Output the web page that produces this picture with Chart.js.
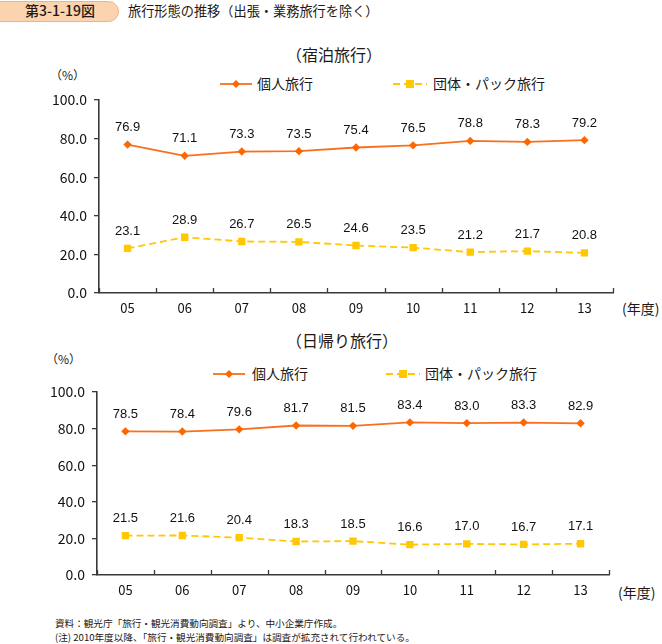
<!DOCTYPE html>
<html><head><meta charset="utf-8">
<script src="https://cdn.jsdelivr.net/npm/chart.js@4.4.1/dist/chart.umd.min.js"></script>
<style>
body{margin:0;width:662px;height:644px;position:relative;background:#fff;font-family:"Noto Sans CJK JP",sans-serif;color:#231815;overflow:hidden}
.abs{position:absolute;white-space:nowrap;line-height:1}
canvas{position:absolute;left:0}
.pill{left:-12px;top:1px;width:129px;height:19px;border:1px solid #F2B27E;background:#FBD3AE;border-radius:11px}
</style></head><body>
<div class="abs pill"></div>
<div class="abs" style="left:25px;top:3px;font-size:14px;font-weight:500">第3-1-19図</div>
<div class="abs" style="left:128px;top:4px;font-size:13.2px">旅行形態の推移（出張・業務旅行を除く）</div>

<div class="abs" style="left:286px;top:46px;font-size:16px">（宿泊旅行）</div>
<div class="abs" style="left:50px;top:69px;font-size:12px">（%）</div>
<div class="abs" style="left:220px;top:76px"><svg width="34" height="14"><line x1="0" y1="7" x2="32" y2="7" stroke="#F8701E" stroke-width="1.8"/><polygon points="16,3 20,7 16,11 12,7" fill="#FF6600"/></svg></div>
<div class="abs" style="left:257px;top:76px;font-size:14px">個人旅行</div>
<div class="abs" style="left:393px;top:76px"><svg width="36" height="14"><line x1="0" y1="7" x2="34" y2="7" stroke="#FFC800" stroke-width="1.8" stroke-dasharray="7,4"/><rect x="13" y="3" width="8" height="8" fill="#FFC800"/></svg></div>
<div class="abs" style="left:433px;top:76px;font-size:14px">団体・パック旅行</div>
<div class="abs" style="left:622px;top:301px;font-size:14px">(年度)</div>

<div class="abs" style="left:286px;top:332px;font-size:16px">（日帰り旅行）</div>
<div class="abs" style="left:46px;top:353px;font-size:12px">（%）</div>
<div class="abs" style="left:213px;top:366px"><svg width="34" height="14"><line x1="0" y1="7" x2="32" y2="7" stroke="#F8701E" stroke-width="1.8"/><polygon points="16,3 20,7 16,11 12,7" fill="#FF6600"/></svg></div>
<div class="abs" style="left:252px;top:366px;font-size:14px">個人旅行</div>
<div class="abs" style="left:386px;top:366px"><svg width="36" height="14"><line x1="0" y1="7" x2="34" y2="7" stroke="#FFC800" stroke-width="1.8" stroke-dasharray="7,4"/><rect x="13" y="3" width="8" height="8" fill="#FFC800"/></svg></div>
<div class="abs" style="left:425px;top:366px;font-size:14px">団体・パック旅行</div>
<div class="abs" style="left:618px;top:585px;font-size:14px">(年度)</div>

<div class="abs" style="left:55px;top:619px;font-size:9.6px">資料：観光庁「旅行・観光消費動向調査」より、中小企業庁作成。</div>
<div class="abs" style="left:55px;top:633px;font-size:9.6px">(注) 2010年度以降、「旅行・観光消費動向調査」は調査が拡充されて行われている。</div>

<canvas id="c1"></canvas>
<canvas id="c2"></canvas>
<script>
const years = ['05','06','07','08','09','10','11','12','13'];
const stayIndividual = [76.9,71.1,73.3,73.5,75.4,76.5,78.8,78.3,79.2];
const stayGroup = [23.1,28.9,26.7,26.5,24.6,23.5,21.2,21.7,20.8];
const dayIndividual = [78.5,78.4,79.6,81.7,81.5,83.4,83.0,83.3,82.9];
const dayGroup = [21.5,21.6,20.4,18.3,18.5,16.6,17.0,16.7,17.1];
const yMin = 0, yMax = 100, yStep = 20;

const axisColor = '#3a3a3a';

const labelPlugin = {
  id:'vlabels',
  afterDatasetsDraw(chart){
    const ctx = chart.ctx;
    ctx.save();
    ctx.font = '13px "Liberation Sans", Arial, sans-serif';
    ctx.fillStyle = '#111';
    ctx.textAlign = 'center';
    ctx.textBaseline = 'middle';
    chart.data.datasets.forEach((ds,i)=>{
      chart.getDatasetMeta(i).data.forEach((el,j)=>{
        ctx.fillText(ds.data[j].toFixed(1), el.x, el.y - 17);
      });
    });
    ctx.restore();
  }
};

// inward (upward) category-boundary tick marks on the x axis
const xTickPlugin = {
  id:'xticks',
  afterDraw(chart){
    const xs = chart.scales.x, ctx = chart.ctx;
    const n = xs.ticks.length;
    const step = xs.getPixelForValue(1) - xs.getPixelForValue(0);
    const yb = chart.chartArea.bottom;
    ctx.save();
    ctx.strokeStyle = axisColor; ctx.lineWidth = 1.3;
    for (let i = 0; i <= n; i++){
      const x = Math.round(xs.getPixelForValue(0) - step/2 + i*step) + 0.5;
      ctx.beginPath(); ctx.moveTo(x, yb); ctx.lineTo(x, yb - 5); ctx.stroke();
    }
    ctx.restore();
  }
};

function makeChart(id, top, height, axisW, rightPad, areaTop, indiv, group){
  const cv = document.getElementById(id);
  cv.width = 662; cv.height = height;
  cv.style.top = top + 'px';
  cv.style.width = '662px'; cv.style.height = height + 'px';
  const ch = new Chart(cv, {
    type:'line',
    data:{labels:years, datasets:[
      {data:indiv, borderColor:'#F8701E', borderWidth:1.8, pointStyle:'rectRot', pointRadius:4.2,
       pointBackgroundColor:'#FF6600', pointBorderColor:'#FF6600', pointBorderWidth:0, tension:0},
      {data:group, borderColor:'#FFC800', borderWidth:1.8, borderDash:[7,4], pointStyle:'rect', pointRadius:5.2,
       pointBackgroundColor:'#FFC800', pointBorderColor:'#FFC800', pointBorderWidth:0, tension:0}
    ]},
    options:{
      responsive:false, animation:false, devicePixelRatio:1,
      layout:{padding:{left:0, right:rightPad, top:10, bottom:0}},
      plugins:{legend:{display:false}, tooltip:{enabled:false}},
      scales:{
        x:{offset:true,
           grid:{offset:true, drawOnChartArea:false, drawTicks:false},
           border:{color:axisColor, width:1.6},
           ticks:{padding:7, color:'#111', font:{family:'"Noto Sans CJK JP", sans-serif', size:13}, maxRotation:0},
           afterFit(s){ s.height = 37; }},
        y:{min:yMin, max:yMax,
           grid:{drawOnChartArea:false, drawTicks:true, tickLength:5, color:axisColor, lineWidth:1.3},
           border:{color:axisColor, width:1.6},
           ticks:{stepSize:yStep, padding:7, color:'#111', font:{family:'"Noto Sans CJK JP", sans-serif', size:14},
                  callback:v=>Number(v).toFixed(1)},
           afterFit(s){ s.width = axisW; }}
      }
    },
    plugins:[labelPlugin, xTickPlugin]
  });
  const want = areaTop - top;
  for (let k = 0; k < 3; k++){
    const d = ch.chartArea.top - want;
    if (Math.abs(d) < 0.5) break;
    ch.options.layout.padding.top = Math.max(0, ch.options.layout.padding.top - d);
    ch.update();
  }
  return ch;
}
makeChart('c1', 70, 260, 99, 49, 100, stayIndividual, stayGroup);
makeChart('c2', 360, 252, 97, 53, 392, dayIndividual, dayGroup);
</script>
</body></html>
